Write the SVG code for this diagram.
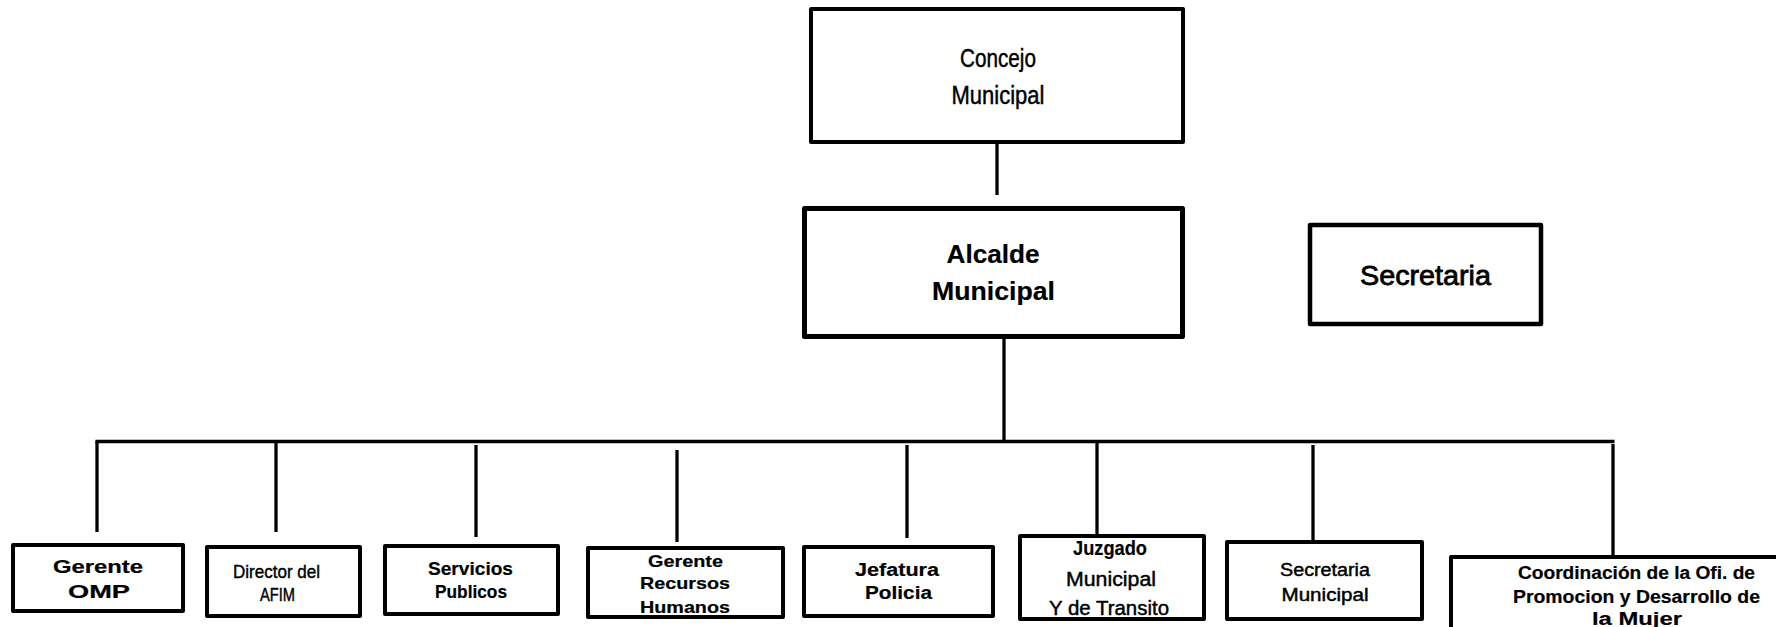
<svg xmlns="http://www.w3.org/2000/svg" width="1776" height="627" viewBox="0 0 1776 627">
<style>
.box{fill:#fff;stroke:#000;stroke-width:4;stroke-linejoin:round}
.t{font-family:"Liberation Sans",Arial,sans-serif;fill:#000;text-anchor:middle;stroke:#000;stroke-width:0.45}
.b{font-weight:bold;stroke-width:0.2}
.con{stroke:#000;stroke-width:3.3;fill:none}
</style>
<rect width="1776" height="627" fill="#fff"/>
<g id="connectors">
<line class="con" x1="997" y1="144" x2="997" y2="195"/>
<line class="con" x1="1004" y1="339" x2="1004" y2="442"/>
<line class="con" x1="95.5" y1="441.5" x2="1614.5" y2="441.5"/>
<line class="con" x1="97" y1="441" x2="97" y2="532"/>
<line class="con" x1="276" y1="441" x2="276" y2="532"/>
<line class="con" x1="476" y1="445" x2="476" y2="537"/>
<line class="con" x1="677" y1="450" x2="677" y2="542"/>
<line class="con" x1="907" y1="445" x2="907" y2="538"/>
<line class="con" x1="1097" y1="441" x2="1097" y2="534"/>
<line class="con" x1="1313" y1="445" x2="1313" y2="546"/>
<line class="con" x1="1613" y1="444" x2="1613" y2="555"/>
</g>
<g id="concejo">
<rect class="box" x="811" y="9" width="372" height="133"/>
<text class="t" x="998" y="67" font-size="25" textLength="76" lengthAdjust="spacingAndGlyphs">Concejo</text>
<text class="t" x="998" y="104" font-size="25" textLength="93" lengthAdjust="spacingAndGlyphs">Municipal</text>
</g>
<g id="alcalde">
<rect class="box" x="804.5" y="208.5" width="378" height="128" style="stroke-width:5"/>
<text class="t b" x="993" y="263" font-size="25" textLength="93" lengthAdjust="spacingAndGlyphs">Alcalde</text>
<text class="t b" x="993.5" y="300" font-size="25" textLength="123" lengthAdjust="spacingAndGlyphs">Municipal</text>
</g>
<g id="secretaria">
<rect class="box" x="1310" y="225" width="231" height="99" style="stroke-width:4.5"/>
<text class="t" x="1425.5" y="285" font-size="28" textLength="131" lengthAdjust="spacingAndGlyphs" style="stroke-width:0.8">Secretaria</text>
</g>
<g id="gerente-omp">
<rect class="box" x="13" y="545" width="170" height="66"/>
<text class="t b" x="98" y="573" font-size="18" textLength="90" lengthAdjust="spacingAndGlyphs">Gerente</text>
<text class="t b" x="99" y="598" font-size="18" textLength="62" lengthAdjust="spacingAndGlyphs">OMP</text>
</g>
<g id="director-afim">
<rect class="box" x="207" y="547" width="153" height="69"/>
<text class="t" x="276.5" y="578" font-size="19" textLength="87" lengthAdjust="spacingAndGlyphs">Director del</text>
<text class="t" x="277.5" y="601" font-size="19" textLength="35" lengthAdjust="spacingAndGlyphs">AFIM</text>
</g>
<g id="servicios-publicos">
<rect class="box" x="385" y="546" width="173" height="68"/>
<text class="t b" x="470.5" y="575" font-size="18" textLength="85" lengthAdjust="spacingAndGlyphs">Servicios</text>
<text class="t b" x="471" y="598" font-size="18" textLength="72" lengthAdjust="spacingAndGlyphs">Publicos</text>
</g>
<g id="gerente-rrhh">
<rect class="box" x="588" y="548" width="195" height="69"/>
<text class="t b" x="685.5" y="567" font-size="17" textLength="75" lengthAdjust="spacingAndGlyphs">Gerente</text>
<text class="t b" x="685" y="589" font-size="17" textLength="90" lengthAdjust="spacingAndGlyphs">Recursos</text>
<text class="t b" x="685" y="613" font-size="17" textLength="90" lengthAdjust="spacingAndGlyphs">Humanos</text>
</g>
<g id="jefatura-policia">
<rect class="box" x="804" y="547" width="189" height="69"/>
<text class="t b" x="897" y="576" font-size="18" textLength="84" lengthAdjust="spacingAndGlyphs">Jefatura</text>
<text class="t b" x="898.5" y="599" font-size="18" textLength="67" lengthAdjust="spacingAndGlyphs">Policia</text>
</g>
<g id="juzgado">
<rect class="box" x="1020" y="536" width="184" height="83"/>
<text class="t b" x="1110" y="555" font-size="20" textLength="74" lengthAdjust="spacingAndGlyphs">Juzgado</text>
<text class="t" x="1111" y="586" font-size="20" textLength="90" lengthAdjust="spacingAndGlyphs">Municipal</text>
<text class="t" x="1109" y="615" font-size="20" textLength="120" lengthAdjust="spacingAndGlyphs">Y de Transito</text>
</g>
<g id="secretaria-municipal">
<rect class="box" x="1227" y="542" width="195" height="77"/>
<text class="t" x="1325" y="576" font-size="18" textLength="90" lengthAdjust="spacingAndGlyphs">Secretaria</text>
<text class="t" x="1325" y="601" font-size="18" textLength="87" lengthAdjust="spacingAndGlyphs">Municipal</text>
</g>
<g id="coordinacion-mujer">
<rect class="box" x="1451" y="557" width="400" height="100"/>
<text class="t b" x="1636.5" y="579" font-size="18" textLength="237" lengthAdjust="spacingAndGlyphs">Coordinación de la Ofi. de</text>
<text class="t b" x="1636.5" y="603" font-size="18" textLength="247" lengthAdjust="spacingAndGlyphs">Promocion y Desarrollo de</text>
<text class="t b" x="1637" y="625" font-size="18" textLength="90" lengthAdjust="spacingAndGlyphs">la Mujer</text>
</g>
</svg>
